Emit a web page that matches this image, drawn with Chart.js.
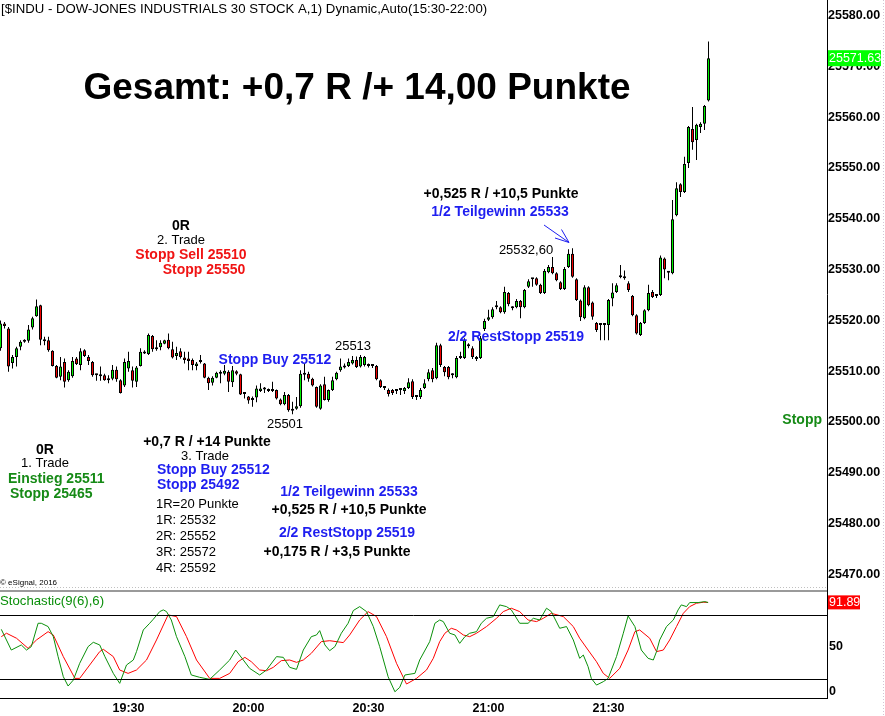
<!DOCTYPE html>
<html>
<head>
<meta charset="utf-8">
<script src="https://cdn.jsdelivr.net/npm/chart.js@4.4.1/dist/chart.umd.min.js"></script>
<style>
  body { margin: 0; background: #fff; }
  #wrap { position: relative; width: 885px; height: 716px; }
  canvas { position: absolute; left: 0; }
  #price { top: 0; }
  #stoch { top: 588px; }
</style>
</head>
<body>
<div id="wrap">
  <canvas id="price" width="885" height="588"></canvas>
  <canvas id="stoch" width="885" height="128"></canvas>
</div>
<script>
// 1-minute candles, 18:58 .. 21:55 (index 0 .. 177)
const opens = [
  25514.5, 25519.4, 25518.4, 25511.6, 25512.8, 25514.8, 25515.8, 25516.0, 25518.6, 25520.8,
  25523.0, 25516.2, 25516.1, 25514.0, 25511.0, 25508.9, 25511.8, 25508.2, 25509.0, 25512.5,
  25511.2, 25514.1, 25512.8, 25511.8, 25509.2, 25509.0, 25509.2, 25508.5, 25508.5, 25510.3,
  25508.2, 25507.2, 25510.5, 25510.2, 25507.9, 25511.0, 25513.5, 25513.4, 25516.9, 25514.3,
  25514.7, 25515.4, 25516.2, 25514.3, 25513.0, 25513.9, 25512.7, 25512.5, 25512.2, 25511.0,
  25511.8, 25511.5, 25508.7, 25507.7, 25508.7, 25509.5, 25509.5, 25509.9, 25507.8, 25510.0,
  25509.4, 25505.5, 25505.0, 25504.3, 25504.8, 25506.1, 25506.4, 25506.5, 25506.1, 25506.3,
  25504.4, 25503.5, 25505.3, 25502.2, 25502.6, 25503.1, 25509.5, 25509.5, 25508.5, 25506.9,
  25502.6, 25507.4, 25504.3, 25506.3, 25508.4, 25510.2, 25510.7, 25511.0, 25511.5, 25512.2,
  25510.9, 25511.2, 25511.0, 25511.0, 25511.0, 25508.2, 25506.7, 25506.3, 25506.3, 25506.1,
  25506.3, 25506.1, 25506.7, 25508.0, 25504.9, 25504.9, 25506.7, 25508.4, 25510.2, 25508.6,
  25515.1, 25510.8, 25510.8, 25509.2, 25508.8, 25512.6, 25512.6, 25514.9, 25514.5, 25512.8,
  25512.6, 25518.3, 25520.1, 25520.6, 25522.6, 25522.6, 25521.6, 25525.4, 25522.4, 25522.6,
  25523.8, 25522.6, 25526.6, 25528.1, 25528.3, 25527.0, 25525.4, 25529.5, 25530.5, 25529.3,
  25527.5, 25526.2, 25530.5, 25533.1, 25528.1, 25523.9, 25520.4, 25526.5, 25523.5, 25519.5,
  25519.1, 25519.1, 25519.1, 25524.3, 25525.6, 25528.5, 25528.3, 25527.3, 25524.8, 25521.0,
  25517.1, 25519.5, 25522.0, 25525.6, 25524.8, 25525.0, 25532.2, 25529.4, 25529.3, 25540.7,
  25546.8, 25545.3, 25551.0, 25557.7, 25555.5, 25558.1, 25558.7, 25563.3
];
const highs = [
  25520.0, 25519.7, 25518.7, 25513.2, 25514.8, 25516.1, 25516.3, 25519.1, 25520.7, 25524.1,
  25523.1, 25516.8, 25516.8, 25514.1, 25511.2, 25512.8, 25512.5, 25510.2, 25512.8, 25512.8,
  25514.5, 25514.3, 25513.2, 25512.0, 25509.5, 25510.9, 25509.5, 25509.2, 25511.2, 25510.9,
  25508.4, 25512.5, 25513.8, 25510.9, 25511.0, 25514.5, 25514.1, 25517.4, 25517.1, 25516.1,
  25516.1, 25516.2, 25517.4, 25515.8, 25514.8, 25514.5, 25513.8, 25513.8, 25512.5, 25511.8,
  25513.2, 25511.6, 25508.9, 25509.0, 25509.9, 25510.2, 25511.2, 25510.2, 25511.0, 25510.2,
  25509.5, 25505.9, 25505.1, 25505.0, 25507.2, 25507.6, 25506.9, 25506.6, 25507.9, 25506.4,
  25504.6, 25505.9, 25505.5, 25504.0, 25504.9, 25510.2, 25511.5, 25509.9, 25508.7, 25507.0,
  25507.4, 25508.9, 25506.4, 25508.9, 25509.9, 25512.5, 25511.5, 25512.5, 25513.0, 25512.9,
  25513.2, 25513.0, 25511.5, 25511.3, 25511.2, 25508.4, 25507.0, 25506.6, 25506.5, 25506.4,
  25506.6, 25506.9, 25508.6, 25508.4, 25505.3, 25506.7, 25508.4, 25510.4, 25510.6, 25515.6,
  25515.4, 25511.0, 25511.0, 25509.6, 25513.0, 25513.8, 25516.5, 25515.5, 25514.9, 25513.0,
  25516.9, 25520.3, 25522.1, 25522.6, 25523.8, 25522.8, 25526.6, 25525.6, 25522.8, 25524.2,
  25524.0, 25526.2, 25528.1, 25528.3, 25528.5, 25527.2, 25530.1, 25530.9, 25532.5, 25529.5,
  25527.7, 25530.5, 25534.0, 25534.2, 25528.3, 25524.1, 25526.9, 25526.7, 25523.7, 25519.7,
  25519.4, 25519.3, 25524.2, 25527.3, 25527.3, 25530.9, 25529.8, 25527.7, 25525.0, 25521.2,
  25519.7, 25522.2, 25527.0, 25526.0, 25525.2, 25532.8, 25532.4, 25529.7, 25543.7, 25547.2,
  25547.0, 25552.2, 25558.3, 25562.0, 25558.7, 25559.0, 25562.4, 25574.9
];
const lows = [
  25514.0, 25518.4, 25509.9, 25510.5, 25510.9, 25514.1, 25515.6, 25515.6, 25518.2, 25520.7,
  25515.1, 25515.1, 25513.8, 25510.9, 25508.6, 25508.2, 25506.8, 25507.9, 25508.7, 25511.2,
  25510.2, 25512.8, 25511.2, 25508.9, 25508.1, 25508.1, 25508.1, 25507.6, 25508.2, 25507.9,
  25505.6, 25506.9, 25509.9, 25506.8, 25506.9, 25510.9, 25513.4, 25513.2, 25513.8, 25514.0,
  25514.1, 25515.3, 25514.3, 25512.5, 25512.2, 25512.5, 25511.5, 25510.2, 25510.2, 25510.2,
  25511.5, 25508.6, 25506.3, 25507.2, 25508.6, 25507.6, 25509.2, 25505.9, 25506.9, 25509.2,
  25505.3, 25504.6, 25503.6, 25503.0, 25503.9, 25505.9, 25505.7, 25505.9, 25505.9, 25504.4,
  25503.3, 25503.3, 25502.0, 25501.5, 25502.4, 25502.8, 25508.2, 25507.9, 25507.0, 25502.8,
  25502.4, 25504.2, 25504.0, 25506.1, 25508.2, 25509.9, 25510.5, 25510.8, 25511.3, 25510.6,
  25510.7, 25510.9, 25510.7, 25510.6, 25508.2, 25506.7, 25506.3, 25505.0, 25505.3, 25505.5,
  25505.3, 25505.5, 25506.5, 25504.5, 25504.3, 25504.5, 25506.5, 25508.0, 25507.8, 25508.4,
  25510.8, 25509.0, 25508.4, 25508.6, 25508.6, 25512.4, 25512.4, 25514.5, 25512.4, 25512.0,
  25512.4, 25517.9, 25519.9, 25520.3, 25522.2, 25521.4, 25521.3, 25522.8, 25522.0, 25522.4,
  25520.4, 25522.4, 25526.4, 25526.6, 25526.8, 25525.2, 25525.2, 25529.3, 25529.1, 25527.7,
  25526.0, 25526.0, 25530.3, 25528.4, 25523.8, 25519.9, 25520.2, 25522.8, 25520.1, 25517.7,
  25516.1, 25516.1, 25516.1, 25522.8, 25525.4, 25528.3, 25528.0, 25525.6, 25520.8, 25517.2,
  25516.9, 25519.3, 25521.8, 25524.4, 25524.4, 25524.8, 25528.3, 25527.9, 25529.1, 25540.5,
  25544.3, 25545.1, 25550.0, 25553.6, 25551.6, 25556.9, 25557.5, 25563.1
];
const closes = [
  25519.4, 25518.9, 25510.9, 25512.8, 25514.5, 25515.8, 25516.1, 25518.2, 25520.4, 25522.8,
  25516.2, 25515.9, 25514.1, 25511.0, 25508.7, 25510.9, 25507.9, 25509.9, 25512.0, 25511.4,
  25513.9, 25513.0, 25512.0, 25509.2, 25509.2, 25509.0, 25508.2, 25508.2, 25510.3, 25508.4,
  25505.7, 25511.8, 25512.0, 25508.1, 25510.7, 25513.8, 25513.8, 25517.1, 25514.3, 25514.3,
  25515.6, 25516.1, 25514.5, 25512.7, 25513.6, 25512.8, 25512.2, 25512.0, 25511.2, 25511.5,
  25511.8, 25508.7, 25507.6, 25508.7, 25509.7, 25509.9, 25510.1, 25507.9, 25510.2, 25509.5,
  25505.4, 25505.5, 25504.2, 25504.3, 25506.6, 25506.6, 25506.4, 25506.1, 25506.1, 25504.6,
  25503.5, 25505.3, 25502.3, 25502.2, 25503.1, 25509.5, 25509.3, 25508.5, 25507.2, 25503.0,
  25507.2, 25504.3, 25506.3, 25508.2, 25509.7, 25510.9, 25511.0, 25511.8, 25512.2, 25510.8,
  25512.8, 25512.8, 25511.0, 25511.0, 25508.4, 25506.9, 25506.7, 25505.5, 25505.7, 25506.1,
  25506.3, 25506.7, 25507.8, 25504.9, 25504.9, 25506.3, 25507.6, 25509.8, 25508.4, 25515.1,
  25511.2, 25509.8, 25508.8, 25509.2, 25512.6, 25512.8, 25516.1, 25514.9, 25512.8, 25512.4,
  25516.5, 25519.9, 25520.6, 25522.2, 25522.6, 25521.6, 25525.6, 25523.2, 25522.4, 25523.8,
  25522.6, 25526.0, 25527.7, 25528.1, 25527.0, 25525.4, 25529.7, 25530.5, 25529.3, 25527.9,
  25526.2, 25530.1, 25533.1, 25528.6, 25524.0, 25520.6, 25526.5, 25523.0, 25520.7, 25518.1,
  25519.1, 25519.1, 25524.0, 25525.5, 25526.9, 25528.5, 25528.3, 25526.0, 25521.0, 25517.4,
  25519.5, 25522.0, 25525.4, 25524.6, 25524.8, 25532.4, 25530.0, 25529.4, 25539.9, 25546.0,
  25545.3, 25550.8, 25558.1, 25555.1, 25558.5, 25558.7, 25562.2, 25571.63
];
const priceTicks = [25470, 25480, 25490, 25500, 25510, 25520, 25530, 25540, 25550, 25560, 25570, 25580];
const timeTickIdx = [32, 62, 92, 122, 152];
const timeTickLabels = ['19:30', '20:00', '20:30', '21:00', '21:30'];

// Stochastic(9(6),6): %K (green) and %D (red), read at the turning points
const kIdx = [0.2, 2.7, 5.2, 6.5, 7.7, 9.4, 10.2, 11.9, 13.2, 14.4, 15.7, 16.9, 18.2, 19.8, 21.9, 23.2, 24.8, 26.1, 28.2, 29.8,
  31.5, 33.2, 34.0, 35.7, 37.3, 38.2, 39.8, 40.7, 41.5, 42.7, 44.0, 46.1, 47.7, 49.8, 52.3, 54.8, 57.3, 58.8, 60.7, 62.3,
  64.8, 66.5, 69.0, 70.7, 72.3, 74.0, 75.7, 77.7, 79.0, 79.8, 81.1, 82.3, 83.6, 85.2, 86.9, 88.2, 89.8, 91.5, 93.2, 94.8,
  96.9, 98.6, 99.8, 101.1, 103.6, 104.8, 107.3, 108.6,
  109.8, 110.7, 112.3, 113.6, 114.8, 116.1, 117.3, 119.0, 120.2, 121.5, 123.2, 124.8, 126.5, 127.7, 129.8, 131.9, 133.2, 134.8,
  136.5, 137.7, 139.8, 141.5, 143.2, 144.8, 145.7, 146.9, 147.7, 149.0, 150.7, 151.9, 154.0, 155.7, 156.9, 158.6, 160.2, 161.9,
  163.2, 164.0, 164.8, 166.5, 168.2, 169.4, 170.2, 171.5, 172.3, 174.4, 176.1, 176.9];
const kVal = [66.5, 47.0, 51.8, 47.0, 50.2, 72.2, 72.2, 69.1, 59.6, 40.8, 21.9, 13.1, 18.7, 34.5, 50.2, 54.3, 51.8, 40.8, 25.0, 15.6,
  32.9, 37.6, 45.5, 65.9, 72.2, 76.0, 83.2, 84.8, 83.2, 75.3, 59.6, 40.8, 23.5, 21.3, 19.4, 28.2, 37.6, 47.0, 37.6, 29.7,
  23.5, 28.2, 40.8, 40.1, 30.7, 28.8, 47.0, 59.6, 61.2, 65.3, 51.8, 46.4, 50.2, 62.8, 72.2, 84.2, 87.9, 83.2, 69.1, 50.2,
  21.9, 7.7, 11.8, 23.5, 25.0, 37.6, 54.9, 72.2,
  75.3, 73.8, 62.8, 61.2, 53.3, 59.6, 62.8, 64.3, 72.2, 76.9, 78.5, 89.5, 87.9, 84.8, 72.2, 72.2, 76.9, 75.3,
  86.4, 83.2, 67.5, 69.1, 56.5, 39.2, 42.3, 31.3, 20.3, 14.0, 17.2, 20.3, 40.8, 62.8, 79.1, 69.1, 47.0, 39.2,
  37.6, 45.5, 56.5, 69.1, 75.3, 84.8, 89.5, 87.9, 91.7, 91.7, 92.6, 91.7];
const dIdx = [0.2, 1.5, 4.0, 6.9, 9.0, 11.9, 13.2, 15.7, 18.6, 19.8, 22.3, 24.8, 25.7, 28.2, 29.8, 31.9, 34.0, 36.5, 39.0, 41.9,
  44.0, 46.5, 49.0, 52.3, 54.8, 57.3, 59.4, 61.1, 62.7, 64.8, 66.5, 68.2, 70.2, 72.3, 74.0, 75.7, 77.7, 80.2, 82.3, 85.7,
  87.3, 89.8, 91.9, 94.0, 96.5, 99.0, 101.5, 104.0, 106.5, 108.2,
  109.8, 111.1, 112.7, 114.0, 115.7, 117.3, 119.0, 121.5, 124.0, 125.7, 127.7, 129.8, 131.9, 134.0, 135.7, 137.7, 140.7, 143.2,
  144.8, 146.9, 149.0, 150.7, 152.3, 154.8, 156.9, 158.6, 159.8, 162.3, 164.0, 165.7, 167.3, 169.0, 170.7, 172.3, 174.0, 175.7, 176.9];
const dVal = [59.6, 62.8, 58.1, 48.6, 56.5, 64.3, 61.2, 40.8, 20.3, 20.3, 32.9, 45.5, 47.7, 40.8, 28.2, 25.0, 28.2, 37.6, 56.5, 80.1,
  78.5, 59.6, 37.6, 20.3, 20.3, 25.0, 36.0, 40.1, 36.0, 28.2, 27.5, 30.7, 37.0, 37.6, 35.4, 37.6, 43.9, 54.9, 55.8, 54.0,
  61.2, 75.3, 83.2, 78.5, 59.6, 34.5, 15.0, 20.3, 28.2, 39.2,
  54.9, 62.8, 67.5, 65.9, 61.2, 59.6, 62.8, 69.1, 76.9, 83.2, 86.4, 83.2, 75.3, 73.8, 76.9, 81.6, 78.5, 69.1,
  58.1, 47.0, 36.0, 25.0, 20.3, 29.7, 47.0, 64.3, 65.9, 58.1, 45.5, 47.0, 56.5, 69.1, 81.6, 87.9, 91.1, 92.0, 91.89];
const stochTicks = [50, 0];
const stochBands = [80, 20];

Chart.defaults.font.family = '"Liberation Sans", Arial, sans-serif';
Chart.defaults.color = '#000';

const FONT = '"Liberation Sans", Arial, sans-serif';
const B14 = 'bold 14px ' + FONT;
const R13 = '13px ' + FONT;
const blue = '#1e1ef0', red = '#f01414', green = '#168a16';
const upFill = '#00f000', downFill = '#f00000';

// x range: candle i sits at pixel 4*i + 0.5 inside a 827px plot
const xMin = -0.125, xMax = 206.625;

// text overlays: [text, x, y, font, colour, align]
const notes = [
  ['[$INDU - DOW-JONES INDUSTRIALS 30 STOCK A,1) Dynamic,Auto(15:30-22:00)', 1, 9, '13.2px ' + FONT, '#000', 'left'],
  ['Gesamt: +0,7 R /+ 14,00 Punkte', 357, 89, 'bold 37px ' + FONT, '#000', 'center'],
  ['0R', 181, 226, B14, '#000', 'center'],
  ['2. Trade', 181, 240, R13, '#000', 'center'],
  ['Stopp Sell 25510', 191, 255, B14, red, 'center'],
  ['Stopp 25550', 204, 270, B14, red, 'center'],
  ['Stopp Buy 25512', 275, 360, B14, blue, 'center'],
  ['25513', 353, 346, R13, '#000', 'center'],
  ['25501', 285, 424, R13, '#000', 'center'],
  ['+0,7 R / +14 Punkte', 207, 442, B14, '#000', 'center'],
  ['3. Trade', 205, 456, R13, '#000', 'center'],
  ['Stopp Buy 25512', 157, 470, B14, blue, 'left'],
  ['Stopp 25492', 157, 485, B14, blue, 'left'],
  ['1R=20 Punkte', 156, 504, R13, '#000', 'left'],
  ['1R: 25532', 156, 520, R13, '#000', 'left'],
  ['2R: 25552', 156, 536, R13, '#000', 'left'],
  ['3R: 25572', 156, 552, R13, '#000', 'left'],
  ['4R: 25592', 156, 568, R13, '#000', 'left'],
  ['0R', 45, 450, B14, '#000', 'center'],
  ['1. Trade', 45, 463, R13, '#000', 'center'],
  ['Einstieg 25511', 8, 479, B14, green, 'left'],
  ['Stopp 25465', 10, 494, B14, green, 'left'],
  ['1/2 Teilgewinn 25533', 349, 492, B14, blue, 'center'],
  ['+0,525 R / +10,5 Punkte', 349, 510, B14, '#000', 'center'],
  ['2/2 RestStopp 25519', 347, 533, B14, blue, 'center'],
  ['+0,175 R / +3,5 Punkte', 337, 552, B14, '#000', 'center'],
  ['+0,525 R / +10,5 Punkte', 501, 194, B14, '#000', 'center'],
  ['1/2 Teilgewinn 25533', 500, 212, B14, blue, 'center'],
  ['25532,60', 526, 250, R13, '#000', 'center'],
  ['2/2 RestStopp 25519', 516, 337, B14, blue, 'center'],
  ['Stopp', 822, 420, B14, green, 'right'],
  ['\u00a9 eSignal, 2016', 0, 583, '8px ' + FONT, '#000', 'left']
];

function dotted(ctx, x1, y1, x2, y2, color) {
  ctx.save();
  ctx.strokeStyle = color;
  ctx.lineWidth = 1;
  ctx.setLineDash([1, 2]);
  ctx.beginPath();
  ctx.moveTo(x1, y1);
  ctx.lineTo(x2, y2);
  ctx.stroke();
  ctx.restore();
}

function valueBox(ctx, x, y, w, h, fill, text) {
  ctx.save();
  ctx.fillStyle = fill;
  ctx.fillRect(x, y - h / 2, w, h);
  ctx.fillStyle = '#fff';
  ctx.font = '12.5px ' + FONT;
  ctx.textAlign = 'left';
  ctx.textBaseline = 'middle';
  ctx.fillText(text, x + 1, y + 0.5);
  ctx.restore();
}

const priceNotes = {
  id: 'priceNotes',
  afterDraw(chart) {
    const ctx = chart.ctx;
    const y = chart.scales.y;
    ctx.save();
    ctx.textBaseline = 'middle';
    notes.forEach(([t, x, yy, f, c, a]) => {
      ctx.font = f;
      ctx.fillStyle = c;
      ctx.textAlign = a;
      ctx.fillText(t, x, yy);
    });
    // blue arrow to the 25532,60 high
    ctx.strokeStyle = blue;
    ctx.lineWidth = 1;
    ctx.beginPath();
    ctx.moveTo(544, 225); ctx.lineTo(569, 242.5);
    ctx.moveTo(555, 238); ctx.lineTo(569, 242.5);
    ctx.moveTo(561.5, 229.5); ctx.lineTo(569, 242.5);
    ctx.stroke();
    ctx.restore();

    dotted(ctx, 0, 587.5, 827, 587.5, '#c0c0c0');
    dotted(ctx, 883.5, 0, 883.5, 588, '#d4c4d4');
    const last = closes[closes.length - 1];
    valueBox(ctx, 828, y.getPixelForValue(last), 53, 16, '#00ff00', last.toFixed(2));
  }
};

const stochNotes = {
  id: 'stochNotes',
  afterDraw(chart) {
    const ctx = chart.ctx;
    const y = chart.scales.y;
    const area = chart.chartArea;
    ctx.save();
    ctx.strokeStyle = '#000';
    ctx.lineWidth = 1;
    stochBands.forEach(v => {
      const py = Math.round(y.getPixelForValue(v)) + 0.5;
      ctx.beginPath();
      ctx.moveTo(area.left, py);
      ctx.lineTo(area.right, py);
      ctx.stroke();
    });
    ctx.strokeStyle = '#9a9a9a';
    ctx.lineWidth = 2;
    ctx.beginPath();
    ctx.moveTo(0, 3);
    ctx.lineTo(area.right, 3);
    ctx.stroke();

    ctx.font = '13.2px ' + FONT;
    ctx.fillStyle = '#0a8f0a';
    ctx.textAlign = 'left';
    ctx.textBaseline = 'middle';
    ctx.fillText('Stochastic(9(6),6)', 0, 13);

    // tick labels below the panel floor are clamped to the bottom
    ctx.font = 'bold 12.5px ' + FONT;
    ctx.fillStyle = '#000';
    stochTicks.filter(v => v < y.min).forEach(v => {
      ctx.fillText(String(v), area.right + 2, area.bottom - 6);
    });
    ctx.restore();

    dotted(ctx, 883.5, 0, 883.5, 128, '#d4c4d4');
    const last = dVal[dVal.length - 1];
    valueBox(ctx, 828, y.getPixelForValue(last), 32, 14, '#ff0000', last.toFixed(2));
  }
};

const baseOpts = {
  responsive: false,
  animation: false,
  events: [],
  layout: { padding: 0 },
  plugins: { legend: { display: false }, tooltip: { enabled: false } }
};

new Chart(document.getElementById('price'), {
  type: 'bar',
  data: {
    datasets: [
      {
        label: 'body',
        order: 1,
        data: opens.map((o, i) => ({ x: i, y: [o, closes[i]] })),
        backgroundColor: c => closes[c.dataIndex] >= opens[c.dataIndex] ? upFill : downFill,
        borderColor: '#000',
        borderWidth: 1,
        borderSkipped: false,
        barThickness: 3,
        minBarLength: 2,
        inflateAmount: 0,
        grouped: false
      },
      {
        label: 'wick',
        order: 2,
        data: lows.map((l, i) => ({ x: i, y: [l, highs[i]] })),
        backgroundColor: '#000',
        borderWidth: 0,
        barThickness: 1,
        inflateAmount: 0,
        grouped: false
      }
    ]
  },
  options: {
    ...baseOpts,
    scales: {
      x: { type: 'linear', min: xMin, max: xMax, offset: false, display: false },
      y: {
        position: 'right',
        min: 25467.30,
        max: 25583.09,
        afterBuildTicks: s => { s.ticks = priceTicks.map(v => ({ value: v })); },
        afterFit: s => { s.width = 58; s.paddingTop = 0; s.paddingBottom = 0; },
        grid: { drawOnChartArea: false, drawTicks: false },
        border: { display: true, color: '#000', width: 1 },
        ticks: {
          padding: 1,
          color: '#000',
          font: { size: 12.5, weight: 'bold' },
          callback: v => v.toFixed(2)
        }
      }
    }
  },
  plugins: [priceNotes]
});

new Chart(document.getElementById('stoch'), {
  type: 'line',
  data: {
    datasets: [
      {
        label: '%K',
        data: kIdx.map((x, i) => ({ x: x, y: kVal[i] })),
        borderColor: '#0a900a',
        borderWidth: 1,
        pointRadius: 0,
        tension: 0
      },
      {
        label: '%D',
        data: dIdx.map((x, i) => ({ x: x, y: dVal[i] })),
        borderColor: '#ff0000',
        borderWidth: 1,
        pointRadius: 0,
        tension: 0
      }
    ]
  },
  options: {
    ...baseOpts,
    scales: {
      x: {
        type: 'linear',
        min: xMin,
        max: xMax,
        offset: false,
        afterBuildTicks: s => { s.ticks = timeTickIdx.map(v => ({ value: v })); },
        afterFit: s => { s.height = 18; s.paddingLeft = 0; s.paddingRight = 0; },
        grid: { drawOnChartArea: false, drawTicks: false },
        border: { display: true, color: '#000', width: 1 },
        ticks: {
          padding: 3,
          color: '#000',
          autoSkip: false,
          maxRotation: 0,
          font: { size: 12.5, weight: 'bold' },
          callback: v => timeTickLabels[timeTickIdx.indexOf(v)]
        }
      },
      y: {
        position: 'right',
        min: 1.82,
        max: 105.43,
        afterBuildTicks: s => { s.ticks = stochTicks.filter(v => v >= s.min).map(v => ({ value: v })); },
        afterFit: s => { s.width = 58; s.paddingTop = 0; s.paddingBottom = 0; },
        grid: { drawOnChartArea: false, drawTicks: false },
        border: { display: true, color: '#000', width: 1 },
        ticks: {
          padding: 2,
          color: '#000',
          font: { size: 12.5, weight: 'bold' }
        }
      }
    }
  },
  plugins: [stochNotes]
});
</script>
</body>
</html>
